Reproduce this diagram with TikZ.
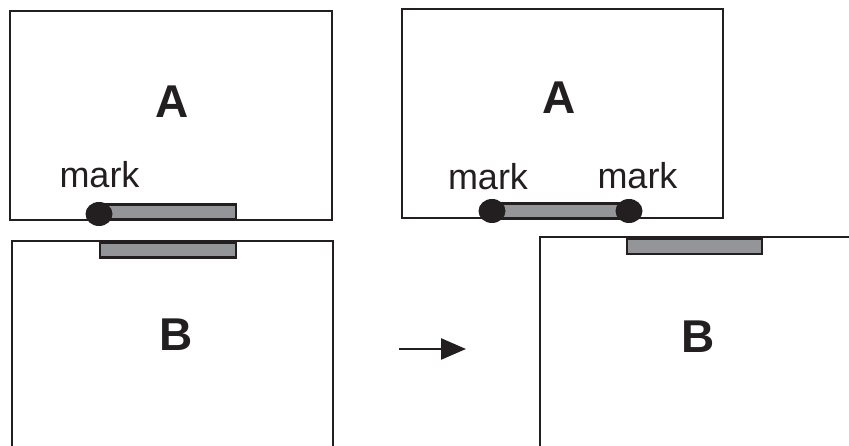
\documentclass[tikz,border=0pt]{standalone}
\usepackage{fontspec}
\setmainfont{Liberation Sans}
\usetikzlibrary{arrows.meta,shapes.geometric}
\definecolor{ink}{HTML}{231F20}
\definecolor{bargray}{HTML}{939598}
\tikzset{
  frame/.style={draw=ink, line width=2.8pt, fill=none, inner sep=0pt},
  barbox/.style={draw=ink, line width=2.2pt, fill=bargray, inner sep=0pt},
  dotmark/.style={ellipse, fill=ink, draw=none, minimum width=27pt, minimum height=24pt, inner sep=0pt},
  bigletter/.style={font=\fontsize{46}{46}\selectfont\bfseries, text=ink, inner sep=0pt},
  marklabel/.style={font=\fontsize{36}{36}\selectfont, text=ink, inner sep=0pt, anchor=base},
}
\begin{document}
\begin{tikzpicture}[x=1pt,y=-1pt]
\useasboundingbox (0,0) rectangle (849,446);
\clip (0,0) rectangle (849,446);
% boxes
\node[frame, minimum width=322pt, minimum height=209pt] (A1) at (171,115.5) {};
\node[frame, minimum width=321pt, minimum height=230pt] (B1) at (172.5,356) {};
\node[frame, minimum width=321pt, minimum height=209pt] (A2) at (562.5,113.5) {};
\node[frame, minimum width=330pt, minimum height=230pt] (B2) at (705,352) {};
% bars
\node[barbox, minimum width=137pt, minimum height=15pt] (barA1) at (167.5,212) {};
\node[barbox, minimum width=136pt, minimum height=15pt] (barB1) at (168,250) {};
\node[barbox, minimum width=137pt, minimum height=15pt] (barA2) at (560.5,211) {};
\node[barbox, minimum width=135pt, minimum height=15pt] (barB2) at (694.5,246.5) {};
% dots
\node[dotmark] (dA1) at (99,214) {};
\node[dotmark] (dA2l) at (492,211) {};
\node[dotmark] (dA2r) at (629,211) {};
% letters
\node[bigletter] (tA1) at (172.5,102) {A};
\node[bigletter] (tB1) at (176.5,335) {B};
\node[bigletter] (tA2) at (559,98) {A};
\node[bigletter] (tB2) at (698,337) {B};
% mark labels
\node[marklabel] (m1) at (99.5,188) {mark};
\node[marklabel] (m2) at (488,190) {mark};
\node[marklabel] (m3) at (637.5,189) {mark};
% arrow
\coordinate (arrS) at (399,349);
\coordinate (arrE) at (466,349);
\draw[ink, line width=2.6pt, -{Triangle[length=25pt,width=21pt]}] (arrS) -- (arrE);
\end{tikzpicture}
\end{document}
